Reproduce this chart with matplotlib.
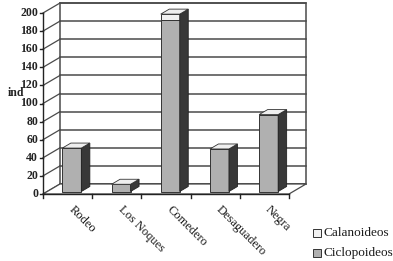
import matplotlib
matplotlib.use("Agg")
import matplotlib.pyplot as plt
from matplotlib.patches import Polygon, Rectangle

categories = ["Rodeo", "Los Noques", "Comedero", "Desaguadero", "Negra"]
ciclopoideos = [48, 8, 189, 47, 85]
calanoideos = [0, 0, 7, 0, 0]
yticks = [0, 20, 40, 60, 80, 100, 120, 140, 160, 180, 200]
series_names = ["Calanoideos", "Ciclopoideos"]

serif = ["Liberation Serif", "DejaVu Serif"]

fig = plt.figure(figsize=(3.93, 2.61), dpi=100)
ax = fig.add_axes([43/393, 1-194/261, 246/393, 181/261])
ax.set_xlim(-0.5, 4.5)
ax.set_ylim(0, 200)
ax.axis("off")

D = 17/49.2   # depth in category units
H = 10/0.905  # depth in value units
grid_c = "#4a4a4a"

# back wall
ax.add_patch(Rectangle((-0.5+D, H), 5, 200, facecolor="white", edgecolor=grid_c,
                       lw=1.1, clip_on=False, zorder=1))
for v in yticks:
    ax.plot([-0.5+D, 4.5+D], [v+H, v+H], color=grid_c, lw=1.1, clip_on=False, zorder=1)
    ax.plot([-0.5, -0.5+D], [v, v+H], color=grid_c, lw=0.9, clip_on=False, zorder=1)
    ax.plot([-0.5-0.06, -0.5], [v, v], color="#222222", lw=1.0, clip_on=False, zorder=2)
    ax.text(-0.5-0.1, v, str(v), ha="right", va="center", fontsize=8.5,
            fontweight="bold", family=serif, color="#222222")
# left wall front edge (y axis)
ax.plot([-0.5, -0.5], [0, 200], color="#222222", lw=1.0, clip_on=False, zorder=2)
# floor
ax.add_patch(Polygon([(-0.5, 0), (4.5, 0), (4.5+D, H), (-0.5+D, H)], closed=True,
                     facecolor="white", edgecolor=grid_c, lw=0.9, clip_on=False, zorder=1))
ax.plot([-0.5, 4.5], [0, 0], color="#222222", lw=1.0, clip_on=False, zorder=2)
for b in range(6):
    ax.plot([b-0.5, b-0.5], [0, -4], color="#222222", lw=1.0, clip_on=False, zorder=2)

# bars
w = 19/49.2
f0 = 0.25
d = 0.5
xs = [i + f0*D for i in range(len(categories))]
base = f0*H
front_c = "#b0b0b0"
side_c = "#383838"
top_c = "#efefef"
cal_c = "#f2f2f2"
ax.bar(xs, ciclopoideos, width=w, bottom=base, color=front_c, edgecolor="#333333",
       lw=0.7, zorder=3, clip_on=False)
ax.bar(xs, calanoideos, width=w, bottom=[base+c for c in ciclopoideos], color=cal_c,
       edgecolor="#333333", lw=0.7, zorder=3, clip_on=False)
for x, c1, c2 in zip(xs, ciclopoideos, calanoideos):
    r = x + w/2
    l = x - w/2
    top = base + c1 + c2
    ax.add_patch(Polygon([(r, base), (r+d*D, base+d*H), (r+d*D, top+d*H), (r, top)],
                         closed=True, facecolor=side_c, edgecolor="#222222", lw=0.6,
                         zorder=3, clip_on=False))
    ax.add_patch(Polygon([(l, top), (r, top), (r+d*D, top+d*H), (l+d*D, top+d*H)],
                         closed=True, facecolor=top_c, edgecolor="#333333", lw=0.6,
                         zorder=3, clip_on=False))

# x labels
for i, cat in enumerate(categories):
    ax.text(i + 0.06, -15, cat, rotation=-45, rotation_mode="anchor", ha="left",
            va="center", fontsize=9, family=serif, color="#1a1a1a")

# y label
fig.text(8/393, 1-93/261, "ind", ha="left", va="center", fontsize=8.5,
         fontweight="bold", family=serif, color="#222222")

# legend
leg_cols = [cal_c, front_c]
for k, (name, col) in enumerate(zip(series_names, leg_cols)):
    yc = 233 + 20*k
    fig.patches.append(Rectangle((313/393, 1-(yc+4)/261), 8/393, 8/261,
                                 transform=fig.transFigure, facecolor=col,
                                 edgecolor="#333333", lw=0.7))
    fig.text(324/393, 1-yc/261, name, ha="left", va="center", fontsize=9.5,
             family=serif, color="#1a1a1a")

fig.savefig("out.png", dpi=100)
